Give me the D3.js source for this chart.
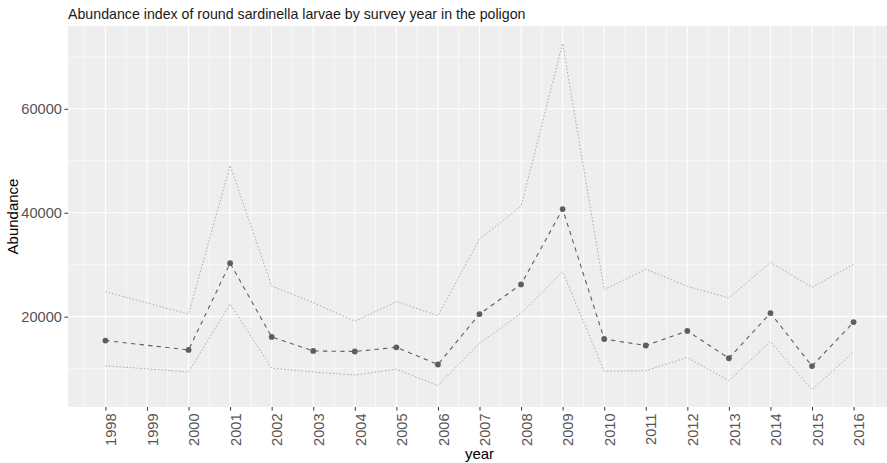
<!DOCTYPE html>
<html>
<head>
<meta charset="utf-8">
<script src="https://cdn.jsdelivr.net/npm/d3@7"></script>
<style>
  html, body { margin: 0; padding: 0; background: #ffffff; }
  svg { display: block; font-family: "Liberation Sans", Arial, sans-serif; }
</style>
</head>
<body>
<svg id="chart" width="887" height="463"></svg>
<script>
// Survey years with estimates (no survey in 1999)
const years = [1998, 2000, 2001, 2002, 2003, 2004, 2005, 2006, 2007, 2008,
               2009, 2010, 2011, 2012, 2013, 2014, 2015, 2016];
// Mean abundance index
const abundance = [15400, 13600, 30300, 16100, 13400, 13300, 14100, 10800, 20500, 26200,
                   40700, 15700, 14450, 17250, 12000, 20700, 10500, 18950];
// Upper and lower confidence bounds
const upper = [24800, 20500, 49100, 25900, 22700, 19100, 22900, 20200, 34900, 41250,
               72600, 25200, 29150, 25850, 23600, 30450, 25650, 30050];
const lower = [10550, 9350, 22450, 10100, 9350, 8770, 9900, 6720, 14900, 20650,
               28650, 9500, 9600, 12150, 7680, 15200, 5950, 13180];
// Axis tick labels
const xTicks = d3.range(1998, 2017);
const yTicks = [20000, 40000, 60000];

const titleText = "Abundance index of round sardinella larvae by survey year in the poligon";

const svg = d3.select("#chart");
const panel = { left: 68, top: 26, right: 891, bottom: 407 };

// Continuous scales with 5% padding on each side
const xMin = d3.min(xTicks), xMax = d3.max(xTicks);
const xPad = (xMax - xMin) * 0.05;
const x = d3.scaleLinear().domain([xMin - xPad, xMax + xPad]).range([panel.left, panel.right]);

const yLo = d3.min(lower), yHi = d3.max(upper);
const yPad = (yHi - yLo) * 0.05;
const y = d3.scaleLinear().domain([yLo - yPad, yHi + yPad]).range([panel.bottom, panel.top]);

// Panel background
svg.append("rect")
  .attr("x", panel.left).attr("y", panel.top)
  .attr("width", panel.right - panel.left).attr("height", panel.bottom - panel.top)
  .attr("fill", "#eeeeee");

const grid = svg.append("g");
// Minor gridlines
const yMinor = [10000, 30000, 50000, 70000];
const xMinor = d3.range(1997.5, 2017, 1);
grid.selectAll(".ym").data(yMinor).join("line")
  .attr("x1", panel.left).attr("x2", panel.right)
  .attr("y1", d => y(d)).attr("y2", d => y(d))
  .attr("stroke", "#ffffff").attr("stroke-width", 0.55);
grid.selectAll(".xm").data(xMinor).join("line")
  .attr("y1", panel.top).attr("y2", panel.bottom)
  .attr("x1", d => x(d)).attr("x2", d => x(d))
  .attr("stroke", "#ffffff").attr("stroke-width", 0.55);
// Major gridlines
grid.selectAll(".yM").data(yTicks).join("line")
  .attr("x1", panel.left).attr("x2", panel.right)
  .attr("y1", d => y(d)).attr("y2", d => y(d))
  .attr("stroke", "#ffffff").attr("stroke-width", 1.1);
grid.selectAll(".xM").data(xTicks).join("line")
  .attr("y1", panel.top).attr("y2", panel.bottom)
  .attr("x1", d => x(d)).attr("x2", d => x(d))
  .attr("stroke", "#ffffff").attr("stroke-width", 1.1);

// Series lines
const line = d3.line().x(d => x(d[0])).y(d => y(d[1]));
const zip = vals => years.map((yr, i) => [yr, vals[i]]);

svg.append("path").datum(zip(upper)).attr("d", line)
  .attr("fill", "none").attr("stroke", "#a9a9a9").attr("stroke-width", 1)
  .attr("stroke-dasharray", "1.5,2");
svg.append("path").datum(zip(lower)).attr("d", line)
  .attr("fill", "none").attr("stroke", "#a9a9a9").attr("stroke-width", 1)
  .attr("stroke-dasharray", "1.5,2");
svg.append("path").datum(zip(abundance)).attr("d", line)
  .attr("fill", "none").attr("stroke", "#5e5e5e").attr("stroke-width", 1.1)
  .attr("stroke-dasharray", "4.3,4.3");

svg.append("g").selectAll("circle").data(zip(abundance)).join("circle")
  .attr("cx", d => x(d[0])).attr("cy", d => y(d[1]))
  .attr("r", 2.9).attr("fill", "#5e5e5e");

// Y axis
const yAxis = svg.append("g")
  .attr("transform", `translate(${panel.left},0)`)
  .call(d3.axisLeft(y).tickValues(yTicks).tickFormat(d3.format("d")).tickSize(3.6).tickPadding(2.5));
yAxis.select(".domain").remove();
yAxis.selectAll(".tick line").attr("stroke", "#333333").attr("stroke-width", 1);
yAxis.selectAll(".tick text")
  .attr("fill", "#555555").style("font-size", "14.6px")
  .style("font-family", "'Liberation Sans', Arial, sans-serif");

// X axis with vertical labels
const xAxis = svg.append("g")
  .attr("transform", `translate(0,${panel.bottom})`)
  .call(d3.axisBottom(x).tickValues(xTicks).tickFormat(d3.format("d")).tickSize(3.6));
xAxis.select(".domain").remove();
xAxis.selectAll(".tick line").attr("stroke", "#333333").attr("stroke-width", 1);
xAxis.selectAll(".tick text")
  .attr("fill", "#555555").style("font-size", "14.6px")
  .style("font-family", "'Liberation Sans', Arial, sans-serif")
  .attr("text-anchor", "end")
  .attr("dy", null)
  .attr("transform", "rotate(-90)")
  .attr("x", -6.5).attr("y", 5.2)
  .attr("dominant-baseline", "central");

// Axis titles
svg.append("text")
  .attr("x", (panel.left + panel.right) / 2).attr("y", 459)
  .attr("text-anchor", "middle").attr("fill", "#000000")
  .style("font-size", "15px").text("year");
svg.append("text")
  .attr("transform", `translate(18,${(panel.top + panel.bottom) / 2}) rotate(-90)`)
  .attr("text-anchor", "middle").attr("fill", "#000000")
  .style("font-size", "15px").text("Abundance");

// Title
svg.append("text")
  .attr("x", panel.left).attr("y", 18.5)
  .attr("fill", "#1a1a1a").style("font-size", "14.2px")
  .text(titleText);
</script>
</body>
</html>
